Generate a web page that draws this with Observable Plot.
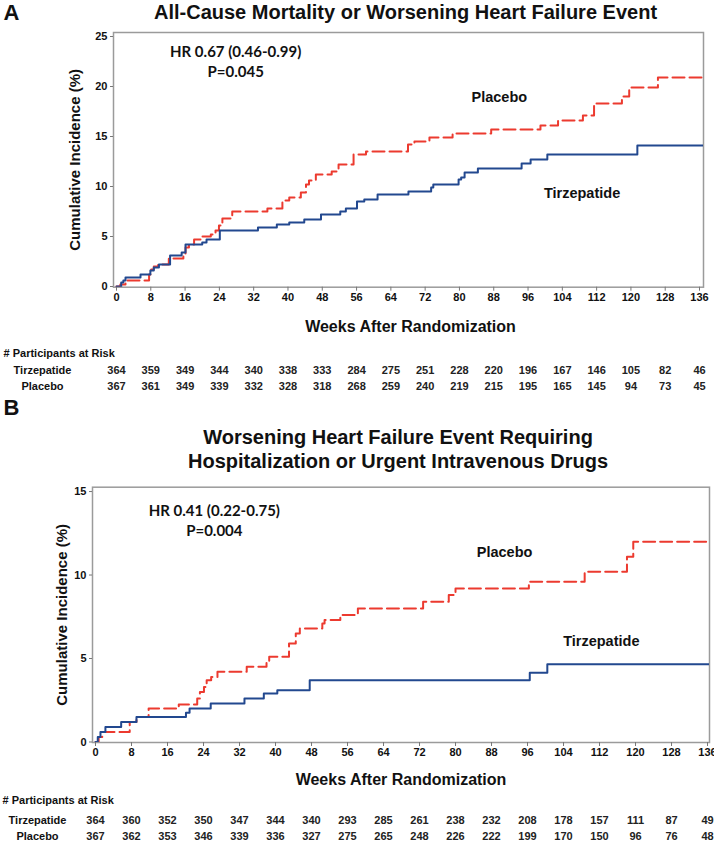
<!DOCTYPE html>
<html><head><meta charset="utf-8">
<script src="https://cdn.jsdelivr.net/npm/d3@7"></script>
<script src="https://cdn.jsdelivr.net/npm/@observablehq/plot@0.6"></script>
<style>
body{margin:0;background:#fff;}
#chart{width:714px;}
svg{display:block}
</style></head><body><div id="chart"></div>
<script>
// ---- Shared tick labels ----
const weekTicks = [0,8,16,24,32,40,48,56,64,72,80,88,96,104,112,120,128,136];
const yTicksA = [0,5,10,15,20,25];
const yTicksB = [0,5,10,15];

// ---- Panel A: All-cause mortality or worsening HF event ----
const aTirzWeeks = [0,1.1,1.6,2.1,5.6,7.9,8.7,9.9,12.5,15.2,16.1,20.0,21.0,24.1,33.0,37.4,40.3,43.8,47.7,52.2,53.5,56.1,57.8,60.9,68.1,73.4,73.9,79.8,80.4,81.2,84.3,94.5,96.6,100.5,121.5,137];
const aTirzPct   = [0,0.4,0.6,0.9,1.2,1.6,1.9,2.2,3.1,3.4,4.2,4.4,4.7,5.6,5.9,6.2,6.4,6.7,7.2,7.5,7.8,8.5,8.7,9.2,9.5,9.9,10.2,10.7,10.9,11.4,11.8,12.3,12.7,13.2,14.1,14.1];
const aPlacWeeks = [0,0.9,2.1,7.6,8.1,8.7,9.7,12.2,15.6,16.1,16.9,18.1,19.6,22.0,23.1,23.9,24.7,27.0,35.2,38.7,40.3,43.0,44.2,44.9,46.5,50.2,51.8,55.3,58.2,68.0,69.5,73.0,78.4,87.4,98.9,103.0,108.8,111.4,117.9,119.6,126.3,137];
const aPlacPct   = [0,0.2,0.6,1.2,1.7,2.0,2.2,2.8,3.2,3.9,4.2,4.7,5.0,5.2,5.6,6.1,6.8,7.5,7.8,8.6,8.9,9.4,10.2,10.6,11.2,11.5,12.2,13.2,13.5,14.2,14.5,14.9,15.3,15.7,16.1,16.6,17.1,18.3,19.0,19.9,20.9,20.9];
const aRiskTirz = [364,359,349,344,340,338,333,284,275,251,228,220,196,167,146,105,82,46];
const aRiskPlac = [367,361,349,339,332,328,318,268,259,240,219,215,195,165,145,94,73,45];

// ---- Panel B: Worsening HF event requiring hospitalization or urgent IV drugs ----
const bTirzWeeks = [0,0.5,1.1,2.2,5.7,9.1,20.1,20.9,25.6,33.1,37.4,40.4,47.6,96.5,100.4,137];
const bTirzPct   = [0,0.3,0.6,0.9,1.2,1.5,1.75,2.0,2.3,2.6,2.9,3.1,3.7,4.15,4.65,4.65];
const bPlacWeeks = [0,0.7,1.5,7.6,9.1,11.8,18.5,22.6,23.2,24.1,24.7,25.7,27.1,33.6,38.0,38.6,43.0,44.5,45.4,50.4,50.9,54.4,58.3,72.8,78.5,80.0,96.3,108.7,118.1,119.5,137];
const bPlacPct   = [0,0.3,0.6,1.2,1.5,2.0,2.25,2.6,3.0,3.3,3.7,3.9,4.2,4.5,4.8,5.1,5.9,6.5,6.8,7.1,7.3,7.6,8.0,8.4,8.8,9.2,9.6,10.2,11.1,12.0,12.0];
const bRiskTirz = [364,360,352,350,347,344,340,293,285,261,238,232,208,178,157,111,87,49];
const bRiskPlac = [367,362,353,346,339,336,327,275,265,248,226,222,199,170,150,96,76,48];

const NARROW = "'Liberation Sans Narrow','Arial Narrow','Liberation Sans',Arial,sans-serif";
const ARIAL = "'Liberation Sans',Arial,sans-serif";
const CAL = "Lato,'Open Sans',sans-serif";
const BLUE = "#22488f", RED = "#ec3a2f";

function panel(c){
  const tir = c.tw.map((w,i)=>({week:w,pct:c.tp[i]}));
  const pla = c.pw.map((w,i)=>({week:w,pct:c.pp[i]}));
  const riskT = weekTicks.map((w,i)=>({week:w,n:c.rt[i]}));
  const riskP = weekTicks.map((w,i)=>({week:w,n:c.rp[i]}));
  const T = {fontWeight:"bold", fill:"#111", lineAnchor:"middle"};
  const marks = [
    Plot.frame({stroke:"#9b9b9b", strokeWidth:1.5}),
    Plot.axisX({ticks:weekTicks, tickSize:4, tickPadding:2, fontSize:11, fontWeight:"bold", fontFamily:NARROW, fill:"#111", stroke:"#777", label:null}),
    Plot.axisY({ticks:c.yTicks, tickSize:3, tickPadding:3, fontSize:11, fontWeight:"bold", fontFamily:NARROW, fill:"#111", stroke:"#777", label:null}),
    Plot.line(pla,{x:"week",y:"pct",curve:"step-after",stroke:RED,strokeWidth:2,strokeDasharray:"12,5",clip:true}),
    Plot.line(tir,{x:"week",y:"pct",curve:"step-after",stroke:BLUE,strokeWidth:2,clip:true}),
    Plot.text([c.hr],{...T,x:c.hrX,y:c.hrY,text:d=>d,fontSize:15,fontFamily:CAL}),
    Plot.text([c.p],{...T,x:c.hrX,y:c.pY,text:d=>d,fontSize:15,fontFamily:CAL}),
    Plot.text(["Placebo"],{...T,x:c.plX,y:c.plY,text:d=>d,fontSize:14.5,fontFamily:ARIAL}),
    Plot.text(["Tirzepatide"],{...T,x:c.tzX,y:c.tzY,text:d=>d,fontSize:14.5,fontFamily:ARIAL}),
    // titles
    Plot.text([c.letter],{...T,frameAnchor:"top-left",dx:c.letterDx,dy:c.letterDy,text:d=>d,fontSize:22,fontFamily:NARROW,textAnchor:"start"}),
    ...c.title.map((t,i)=>Plot.text([t],{...T,frameAnchor:"top",dx:c.titleDx,dy:c.titleDy[i],text:d=>d,fontSize:20,fontFamily:NARROW,textAnchor:"middle"})),
    Plot.text(["Cumulative Incidence (%)"],{...T,frameAnchor:"left",dx:c.ylabDx,rotate:-90,text:d=>d,fontSize:15,fontFamily:ARIAL,textAnchor:"middle"}),
    Plot.text(["Weeks After Randomization"],{...T,frameAnchor:"bottom",dx:c.xlabDx,dy:c.xlabDy,text:d=>d,fontSize:16,fontFamily:NARROW,textAnchor:"middle"}),
    // risk table
    Plot.text(["# Participants at Risk"],{...T,frameAnchor:"bottom-left",dx:c.hdrDx,dy:c.hdrDy,text:d=>d,textAnchor:"start",fontSize:11,fontFamily:NARROW}),
    Plot.text(["Tirzepatide"],{...T,frameAnchor:"bottom-left",dx:c.rowDx,dy:c.rowDy[0],text:d=>d,textAnchor:"middle",fontSize:11,fontFamily:NARROW}),
    Plot.text(["Placebo"],{...T,frameAnchor:"bottom-left",dx:c.rowDx,dy:c.rowDy[1],text:d=>d,textAnchor:"middle",fontSize:11,fontFamily:NARROW}),
    Plot.text(riskT,{...T,x:"week",frameAnchor:"bottom",dy:c.rowDy[0],text:"n",fontSize:11,fontFamily:NARROW,fill:"#222",textAnchor:"middle"}),
    Plot.text(riskP,{...T,x:"week",frameAnchor:"bottom",dy:c.rowDy[1],text:"n",fontSize:11,fontFamily:NARROW,fill:"#222",textAnchor:"middle"})
  ];
  return Plot.plot({
    width:714, height:c.height,
    marginLeft:c.ml, marginRight:c.mr, marginTop:c.mt, marginBottom:c.mb,
    x:{domain:c.xd}, y:{domain:c.yd},
    style:{background:"#fff", fontFamily:NARROW, overflow:"visible"},
    marks
  });
}

const figA = panel({
  tw:aTirzWeeks, tp:aTirzPct, pw:aPlacWeeks, pp:aPlacPct, rt:aRiskTirz, rp:aRiskPlac,
  yTicks:yTicksA, height:400, ml:113, mr:11, mt:32, mb:113.3,
  xd:[-0.7,136.93], yd:[-0.07,25.4],
  hr:"HR 0.67 (0.46-0.99)", p:"P=0.045", hrX:27.8, hrY:23.4, pY:21.4,
  plX:89.3, plY:18.9, tzX:108.6, tzY:9.3,
  letter:"A", letterDx:-110, letterDy:-20,
  title:["All-Cause Mortality or Worsening Heart Failure Event"], titleDx:-3, titleDy:[-20],
  ylabDx:-38, xlabDx:2, xlabDy:40,
  hdrDx:-110, hdrDy:66, rowDx:-71, rowDy:[83,99]
});
const figB = panel({
  tw:bTirzWeeks, tp:bTirzPct, pw:bPlacWeeks, pp:bPlacPct, rt:bRiskTirz, rp:bRiskPlac,
  yTicks:yTicksB, height:446, ml:92, mr:5, mt:86.7, mb:104,
  xd:[-0.67,136.44], yd:[-0.03,15.26],
  hr:"HR 0.41 (0.22-0.75)", p:"P=0.004", hrX:26.4, hrY:13.8, pY:12.6,
  plX:90.9, plY:11.35, tzX:112.4, tzY:6.0,
  letter:"B", letterDx:-89, letterDy:-79.7,
  title:["Worsening Heart Failure Event Requiring","Hospitalization or Urgent Intravenous Drugs"], titleDx:-3, titleDy:[-50,-26],
  ylabDx:-30, xlabDx:0, xlabDy:37,
  hdrDx:-90, hdrDy:58, rowDx:-55, rowDy:[78,94]
});
document.getElementById("chart").append(figA, figB);
</script>
</body></html>
